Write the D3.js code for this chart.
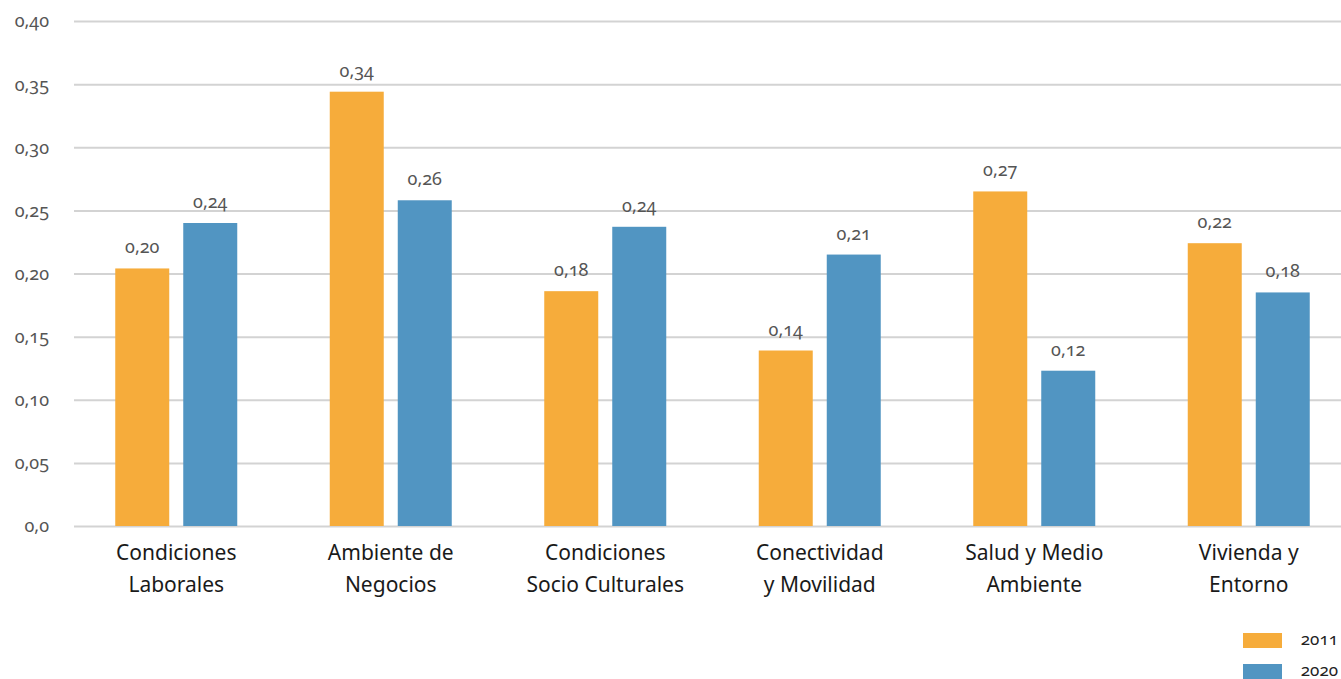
<!DOCTYPE html>
<html>
<head>
<meta charset="utf-8">
<script src="https://cdn.jsdelivr.net/npm/d3@7"></script>
<style>
  body { margin: 0; background: #fff; }
  svg { display: block; }
  .num { font-family: "Noto Sans", sans-serif; font-variant-numeric: oldstyle-nums; font-feature-settings: "onum" 1; }
</style>
</head>
<body>
<div id="chart"></div>
<script>

var categories = [
  ["Condiciones", "Laborales"],
  ["Ambiente de", "Negocios"],
  ["Condiciones", "Socio Culturales"],
  ["Conectividad", "y Movilidad"],
  ["Salud y Medio", "Ambiente"],
  ["Vivienda y", "Entorno"]
];
var series = ["2011", "2020"];
var values_2011 = [0.204, 0.344, 0.186, 0.139, 0.265, 0.224];
var values_2020 = [0.240, 0.258, 0.237, 0.215, 0.123, 0.185];
var labels_2011 = ["0,20", "0,34", "0,18", "0,14", "0,27", "0,22"];
var labels_2020 = ["0,24", "0,26", "0,24", "0,21", "0,12", "0,18"];
var y_ticks = [0, 0.05, 0.10, 0.15, 0.20, 0.25, 0.30, 0.35, 0.40];
var y_tick_labels = ["0,0", "0,05", "0,10", "0,15", "0,20", "0,25", "0,30", "0,35", "0,40"];

var W = 1341, H = 679;
var colors = {"2011": "#F6AC3B", "2020": "#5195C2"};

var svg = d3.select("#chart").append("svg")
  .attr("width", W)
  .attr("height", H);

var cat_keys = categories.map(function(d){ return d.join(" "); });

// scales
var x0 = d3.scaleBand()
  .domain(cat_keys)
  .range([69, 1356]);

var group_w = 122;
var x1 = d3.scaleBand()
  .domain(series)
  .range([0, group_w])
  .paddingInner(0.206);

var y = d3.scaleLinear()
  .domain([0, 0.40])
  .range([526, 21]);

// gridlines + tick labels
var axis = d3.axisLeft(y)
  .tickValues(y_ticks)
  .tickSize(-(W - 74))
  .tickPadding(25)
  .tickFormat(function(d, i){ return y_tick_labels[i]; });

var gy = svg.append("g")
  .attr("transform", "translate(74,0)")
  .call(axis);
gy.select(".domain").remove();
gy.selectAll("line")
  .attr("stroke", "#d3d3d3")
  .attr("stroke-width", 2);
gy.selectAll("text")
  .attr("class", "num")
  .attr("fill", "#555")
  .style("font-size", "18px")
  .attr("dy", "0.33em");

// bars
var rows = cat_keys.map(function(c, i){
  return {cat: c, vals: [
    {s: "2011", v: values_2011[i], lab: labels_2011[i]},
    {s: "2020", v: values_2020[i], lab: labels_2020[i]}
  ]};
});

var groups = svg.selectAll(".grp")
  .data(rows)
  .enter()
  .append("g")
    .attr("class", "grp")
    .attr("transform", function(d){ return "translate(" + (x0(d.cat) + (x0.bandwidth() - group_w)/2) + ",0)"; });

groups.selectAll("rect")
  .data(function(d){ return d.vals; })
  .enter()
  .append("rect")
    .attr("x", function(d){ return x1(d.s); })
    .attr("y", function(d){ return y(d.v); })
    .attr("width", x1.bandwidth())
    .attr("height", function(d){ return y(0) - y(d.v); })
    .attr("fill", function(d){ return colors[d.s]; });

groups.selectAll(".val")
  .data(function(d){ return d.vals; })
  .enter()
  .append("text")
    .attr("class", "num")
    .attr("x", function(d){ return x1(d.s) + x1.bandwidth()/2; })
    .attr("y", function(d){ return y(d.v) - 15; })
    .attr("text-anchor", "middle")
    .attr("fill", "#555")
    .style("font-size", "18px")
    .text(function(d){ return d.lab; });

// category labels
var cat_text = svg.selectAll(".cat")
  .data(categories)
  .enter()
  .append("text")
    .attr("class", "cat")
    .attr("text-anchor", "middle")
    .attr("fill", "#1a1a1a")
    .style("font-family", "'Noto Sans', sans-serif")
    .style("font-size", "21px")
    .attr("transform", function(d, i){ return "translate(" + (x0(cat_keys[i]) + x0.bandwidth()/2) + ",560)"; });

cat_text.selectAll("tspan")
  .data(function(d){ return d; })
  .enter()
  .append("tspan")
    .attr("x", 0)
    .attr("dy", function(d, i){ return i == 0 ? 0 : 32; })
    .text(function(d){ return d; });

// legend
var legend = svg.selectAll(".leg")
  .data(series)
  .enter()
  .append("g")
    .attr("class", "leg")
    .attr("transform", function(d, i){ return "translate(1243," + (633 + i*31) + ")"; });

legend.append("rect")
  .attr("width", 39)
  .attr("height", 15)
  .attr("fill", function(d){ return colors[d]; });

legend.append("text")
  .attr("class", "num")
  .attr("x", 95)
  .attr("y", 12)
  .attr("text-anchor", "end")
  .attr("fill", "#222")
  .style("font-size", "17px")
  .text(function(d){ return d; });

</script>
</body>
</html>
